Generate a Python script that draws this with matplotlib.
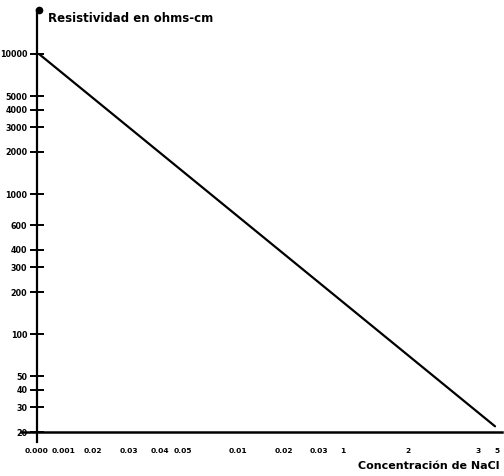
import matplotlib
matplotlib.use('Agg')
import matplotlib.pyplot as plt

plt.rcParams['font.family'] = 'DejaVu Sans'

# escala vertical (resistividad, ohm-cm)
y_ticks = [10000, 5000, 4000, 3000, 2000, 1000, 600, 400, 300, 200, 100, 50, 40, 30, 20]
y_labels = ['10000', '5000', '4000', '3000', '2000', '1000', '600', '400', '300', '200',
            '100', '50', '40', '30', '20']

# escala horizontal dibujada a mano (concentración de NaCl), sitio de cada etiqueta
x_labels = ['0.000', '0.001', '0.02', '0.03', '0.04', '0.05', '0.01', '0.02', '0.03',
            '1', '2', '3', '5']
x_tick_at = [-2, 25, 54, 90, 121, 145, 200, 246, 281, 305, 371, 441, 460]

# recta de resistividad
line_x = [0, 458]
line_y = [10000, 22]

fig = plt.figure(figsize=(5.04, 4.76), dpi=100)
ax = fig.add_axes([37 / 504, 34 / 476, 465 / 504, 432 / 476])

ax.set_yscale('log')
ax.set_ylim(17, 20600)
ax.set_xlim(0, 465)

ax.plot(line_x, line_y, color='black', lw=1.6, solid_capstyle='round')
ax.axhline(20, xmin=-0.035, xmax=1.0, color='black', lw=1.8, clip_on=False)
ax.plot([0], [20600], 'o', color='black', ms=4.5, clip_on=False)

for s in ['top', 'right', 'bottom']:
    ax.spines[s].set_visible(False)
ax.spines['left'].set_linewidth(1.6)

ax.set_yticks(y_ticks)
ax.set_yticklabels(y_labels)
ax.minorticks_off()
ax.tick_params(axis='y', direction='inout', length=10, width=1.4, pad=2,
               labelsize=5.8)
for t in ax.get_yticklabels():
    t.set_fontweight('bold')

ax.set_xticks(x_tick_at)
ax.set_xticklabels(x_labels)
ax.tick_params(axis='x', length=0, pad=4, labelsize=5.4)
for t in ax.get_xticklabels():
    t.set_fontweight('bold')

fig.text(48 / 504, 1 - 18 / 476, 'Resistividad en ohms-cm', fontsize=8.5,
         fontweight='heavy', ha='left', va='center')
fig.text(500 / 504, 1 - 466 / 476, 'Concentración de NaCl', fontsize=8,
         fontweight='heavy', ha='right', va='center')

fig.savefig('out.png', dpi=100)
